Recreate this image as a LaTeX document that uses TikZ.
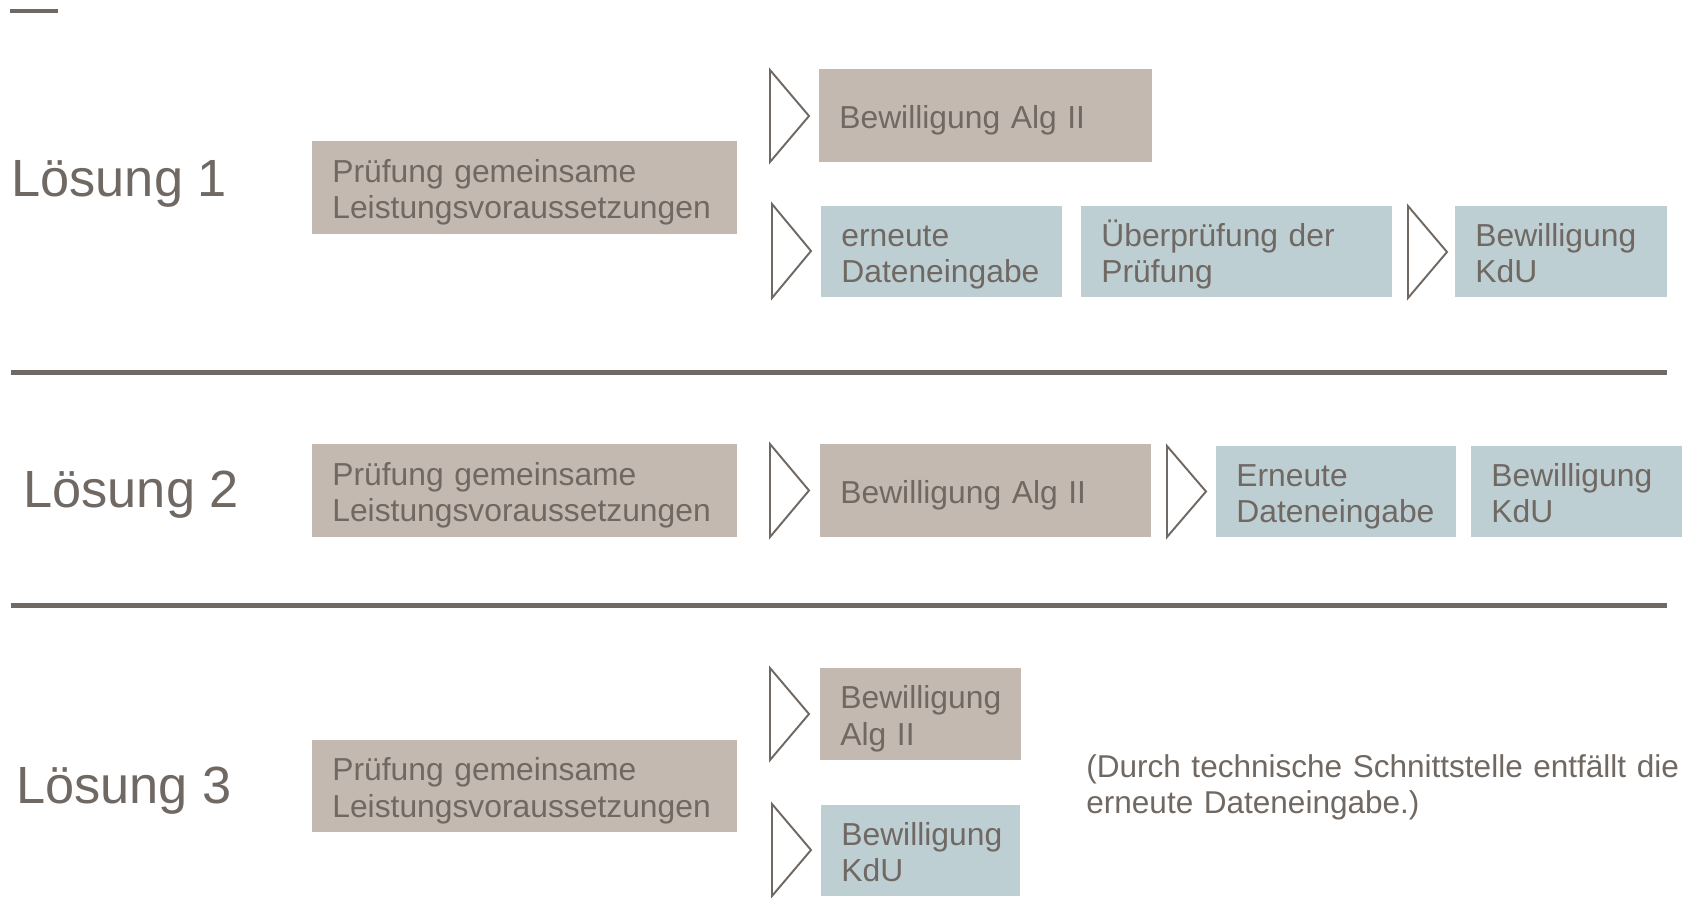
\documentclass[tikz,border=0pt]{standalone}
\usepackage{xcolor}
\usepackage{fontspec}
\setmainfont{Liberation Sans}
\usepackage{tikz}
\usetikzlibrary{positioning, calc}
\definecolor{textgray}{RGB}{112, 104, 98}
\definecolor{sandbeige}{RGB}{196, 185, 176}
\definecolor{paleblue}{RGB}{190, 207, 212}

\tikzset{
    stepbox/.style={anchor=north west, inner xsep=0.4cm, inner ysep=0pt, align=left,
        text=textgray, font=\fontsize{18.1}{20.7}\selectfont,
        execute at begin node={\vrule width 0pt height 19pt depth 0pt},
        execute at end node={\vrule width 0pt height 0pt depth 4.8pt}},
    beigebox/.style={stepbox, fill=sandbeige},
    bluebox/.style={stepbox, fill=paleblue},
    solution/.style={anchor=base west, inner sep=0pt, text=textgray, font=\fontsize{29.8}{34}\selectfont},
    chevron/.style={draw=textgray, line width=1.1pt, fill=white, line join=miter},
    divider/.style={draw=textgray, line width=2.9pt}
}

\begin{document}
\begin{tikzpicture}
    \useasboundingbox (0,0) rectangle (33.96,-17.96);

    % top mark and row dividers
    \draw[textgray, line width=2.3pt] (0.2,-0.22) -- (1.16,-0.22);
    \draw[divider] (0.22,-7.45) -- (33.34,-7.45);
    \draw[divider] (0.22,-12.11) -- (33.34,-12.11);

    % Row 1
    \node[solution] (l1) at (0.22,-3.94) {Lösung 1};
    \node[beigebox, text width=7.7cm, minimum height=1.86cm] (p1) at (6.24,-2.82) {Prüfung gemeinsame\\Leistungsvoraussetzungen};
    \node[beigebox, text width=5.86cm, minimum height=1.86cm] (a1) at (16.38,-1.38) {Bewilligung Alg II};
    \node[bluebox, text width=4.02cm, minimum height=1.82cm] (e1) at (16.42,-4.12) {erneute\\Dateneingabe};
    \node[bluebox, text width=5.42cm, minimum height=1.82cm] (u1) at (21.62,-4.12) {Überprüfung der\\Prüfung};
    \node[bluebox, text width=3.44cm, minimum height=1.82cm] (k1) at (29.10,-4.12) {Bewilligung\\KdU};

    % Row 2
    \node[solution] (l2) at (0.46,-10.14) {Lösung 2};
    \node[beigebox, text width=7.7cm, minimum height=1.86cm] (p2) at (6.24,-8.88) {Prüfung gemeinsame\\Leistungsvoraussetzungen};
    \node[beigebox, text width=5.82cm, minimum height=1.86cm] (a2) at (16.40,-8.88) {Bewilligung Alg II};
    \node[bluebox, text width=4.0cm, minimum height=1.82cm] (e2) at (24.32,-8.92) {Erneute\\Dateneingabe};
    \node[bluebox, text width=3.42cm, minimum height=1.82cm] (k2) at (29.42,-8.92) {Bewilligung\\KdU};

    % Row 3
    \node[solution] (l3) at (0.32,-16.06) {Lösung 3};
    \node[beigebox, text width=7.7cm, minimum height=1.84cm] (p3) at (6.24,-14.80) {Prüfung gemeinsame\\Leistungsvoraussetzungen};
    \node[beigebox, text width=3.22cm, minimum height=1.84cm] (a3) at (16.40,-13.36) {Bewilligung\\Alg II};
    \node[bluebox, text width=3.18cm, minimum height=1.82cm] (k3) at (16.42,-16.10) {Bewilligung\\KdU};
    \node[anchor=base west, inner sep=0pt, text width=14cm, align=left, text=textgray,
          font=\fontsize{17.95}{20.7}\selectfont] (note) at (21.72,-15.55)
        {(Durch technische Schnittstelle entfällt die\\erneute Dateneingabe.)};

    % Chevrons: left x / top y / bottom y
    \foreach \x/\yt/\yb in {15.40/-1.40/-3.24, 15.44/-4.08/-5.96, 28.16/-4.12/-5.96,
                            15.40/-8.88/-10.74, 23.34/-8.92/-10.74,
                            15.40/-13.36/-15.20, 15.44/-16.08/-17.92} {
        \draw[chevron] (\x,\yt) -- (\x+0.78,{(\yt+\yb)/2}) -- (\x,\yb) -- cycle;
    }
\end{tikzpicture}
\end{document}
